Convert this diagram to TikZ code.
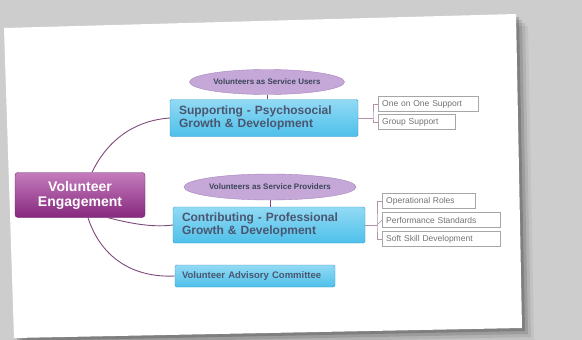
\documentclass[tikz,border=0pt]{standalone}
\usepackage{fontspec}
\setmainfont{Liberation Sans}
\usepackage{xcolor}
\usetikzlibrary{shapes.geometric}

\definecolor{bggrey}{HTML}{CDCDCD}
\definecolor{rootTop}{HTML}{C47CBC}
\definecolor{rootBot}{HTML}{86287E}
\definecolor{topicTop}{HTML}{92DAF4}
\definecolor{topicBot}{HTML}{4EC0EA}
\definecolor{topicEdge}{HTML}{3C9ACA}
\definecolor{topicText}{HTML}{4A5670}
\definecolor{calloutFill}{HTML}{C6A8D8}
\definecolor{calloutEdge}{HTML}{A484BC}
\definecolor{branchCol}{HTML}{7E4A7A}

\begin{document}
\begin{tikzpicture}[x=1pt, y=-1pt,
    root/.style={rounded corners=3pt, top color=rootTop, bottom color=rootBot, draw=rootBot!80!black,
      minimum width=130pt, minimum height=45pt, align=center, text=white,
      font=\fontsize{14}{15}\selectfont\bfseries},
    topic/.style={rounded corners=1.5pt, top color=topicTop, bottom color=topicBot, draw=topicEdge,
      text=topicText, align=left, inner xsep=9pt, font=\fontsize{12}{12.5}\selectfont\bfseries},
    callout/.style={ellipse, fill=calloutFill, draw=calloutEdge, inner sep=0pt, text=topicText!80!black,
      font=\fontsize{8}{9}\selectfont\bfseries},
    leaf/.style={draw=black!35, fill=white, anchor=west, text=black!55, inner xsep=4pt, align=left,
      minimum height=15pt, font=\fontsize{8.5}{9}\selectfont},
    branch/.style={draw=branchCol, line width=0.9pt},
    link/.style={draw=branchCol!60, line width=0.7pt}]
    \useasboundingbox (0,0) rectangle (582,340);
    \fill[bggrey] (0,0) rectangle (582,340);
    \foreach \d/\o in {12/0.05, 9/0.08, 6/0.12, 3/0.18}
      \fill[black, opacity=\o] (4+\d,28+\d) -- (516+\d,14+\d) -- (522+\d,328+\d) -- (14+\d,338+\d) -- cycle;
    \fill[white] (4,28) -- (516,14) -- (522,328) -- (14,338) -- cycle;

    \node[root] (eng) at (80,195) {Volunteer\\Engagement};

    \node[topic, minimum height=37pt, text width=170pt] (sup) at (264,118)
      {Supporting - Psychosocial\\Growth \& Development};
    \node[topic, minimum height=36pt, text width=174pt] (con) at (269,225)
      {Contributing - Professional\\Growth \& Development};
    \node[topic, minimum height=22pt, inner xsep=7pt, text width=146pt,
      font=\fontsize{9.5}{10}\selectfont\bfseries] (adv) at (255,276)
      {Volunteer Advisory Committee};

    \node[callout, minimum width=155pt, minimum height=25pt] (users) at (267,82)
      {Volunteers as Service Users};
    \node[callout, minimum width=170pt, minimum height=26pt] (prov) at (270,187)
      {Volunteers as Service Providers};

    \node[leaf, text width=92pt] (one) at (378,104) {One on One Support};
    \node[leaf, text width=69pt] (grp) at (378,122) {Group Support};
    \node[leaf, text width=85pt] (ops) at (382,201) {Operational Roles};
    \node[leaf, text width=110pt] (perf) at (382,220) {Performance Standards};
    \node[leaf, text width=110pt] (soft) at (382,239) {Soft Skill Development};

    \draw[branch] ([xshift=12pt]eng.north) .. controls (110,135) and (140,120) .. (sup.west);
    \draw[branch] ([xshift=28pt]eng.south) .. controls (125,222) and (150,228) .. (con.west);
    \draw[branch] ([xshift=8pt]eng.south) .. controls (100,255) and (130,278) .. (adv.west);

    \draw[branch, line width=0.6pt] (users.south) -- (users.south |- sup.north);
    \draw[branch, line width=0.6pt] (prov.south) -- (prov.south |- con.north);

    \coordinate (fork1) at ([xshift=-5pt]one.west |- sup.east);
    \coordinate (fork2) at ([xshift=-5pt]perf.west |- con.east);
    \draw[link] (sup.east) -- (fork1);
    \draw[link] (one.west) -| (fork1) |- (grp.west);
    \draw[link] (con.east) -- (fork2);
    \draw[link] (ops.west) -| (fork2) |- (soft.west);
    \draw[link] (fork2) -- (perf.west);
  \end{tikzpicture}
\end{document}
